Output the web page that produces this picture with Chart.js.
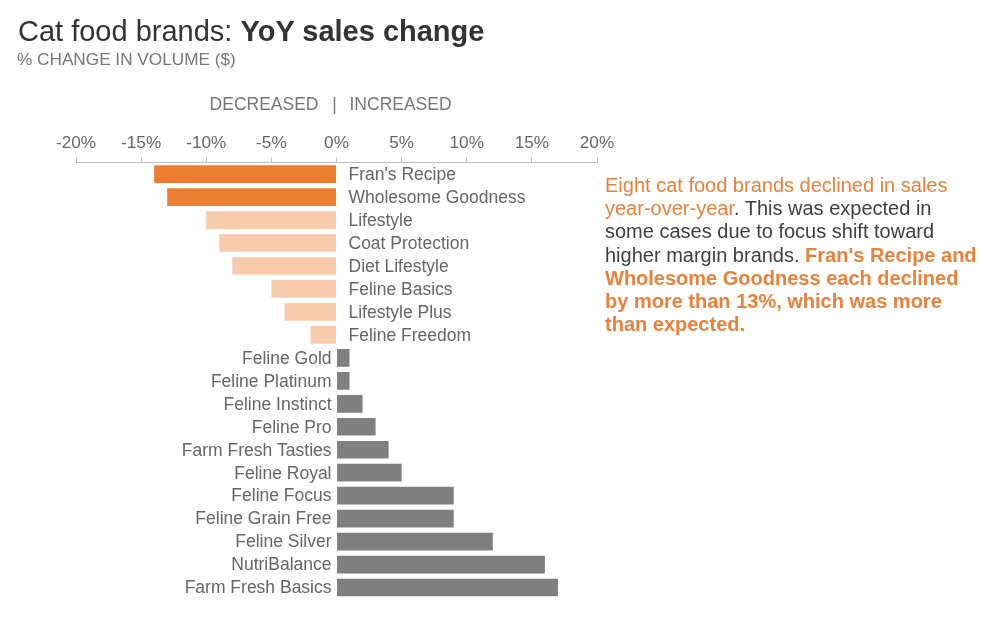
<!DOCTYPE html>
<html>
<head>
<meta charset="utf-8">
<script src="https://cdn.jsdelivr.net/npm/chart.js@4/dist/chart.umd.min.js"></script>
<style>
  body { margin: 0; background: #fff; font-family: "Liberation Sans", Arial, sans-serif; }
  #wrap { position: relative; width: 1000px; height: 621px; overflow: hidden; }
  #chart { position: absolute; left: 0; top: 0; }
  .title { position: absolute; left: 18px; top: 15px; font-size: 29px; color: #333; white-space: nowrap; }
  .title b { font-weight: bold; }
  .sub { position: absolute; left: 17px; top: 49px; font-size: 17.2px; color: #777; }
  .note { position: absolute; left: 605px; top: 174px; font-size: 20px; line-height: 23.2px; color: #404040; white-space: nowrap; }
  .note .o { color: #E8823A; }
  .note b { color: #E8823A; }
</style>
</head>
<body>
<div id="wrap">
  <canvas id="chart" width="1000" height="621"></canvas>
  <div class="title">Cat food brands: <b>YoY sales change</b></div>
  <div class="sub">% CHANGE IN VOLUME ($)</div>
  <div class="note">
    <span class="o">Eight cat food brands declined in sales</span><br>
    <span class="o">year-over-year</span>. This was expected in<br>
    some cases due to focus shift toward<br>
    higher margin brands. <b>Fran's Recipe and</b><br>
    <b>Wholesome Goodness each declined</b><br>
    <b>by more than 13%, which was more</b><br>
    <b>than expected.</b>
  </div>
</div>
<script>
// brands, top to bottom
const brands = ["Fran's Recipe", "Wholesome Goodness", "Lifestyle", "Coat Protection", "Diet Lifestyle",
  "Feline Basics", "Lifestyle Plus", "Feline Freedom", "Feline Gold", "Feline Platinum", "Feline Instinct",
  "Feline Pro", "Farm Fresh Tasties", "Feline Royal", "Feline Focus", "Feline Grain Free", "Feline Silver",
  "NutriBalance", "Farm Fresh Basics"];
// % change in volume
const change = [-14, -13, -10, -9, -8, -5, -4, -2, 1, 1, 2, 3, 4, 5, 9, 9, 12, 16, 17];
const xTicks = [-20, -15, -10, -5, 0, 5, 10, 15, 20];

const darkOrange = '#ED7D31';
const lightOrange = '#F8CBAD';
const grey = '#7F7F7F';

const barColors = change.map((v, i) => v >= 0 ? grey : (i < 2 ? darkOrange : lightOrange));

// brand names sit at the zero line, on the side away from the bar
const zeroLabels = {
  id: 'zeroLabels',
  afterDatasetsDraw(chart) {
    const { ctx, scales: { x, y } } = chart;
    const x0 = x.getPixelForValue(0);
    ctx.save();
    ctx.font = '17.5px "Liberation Sans", Arial, sans-serif';
    ctx.fillStyle = '#666';
    ctx.textBaseline = 'middle';
    brands.forEach((b, i) => {
      const py = y.getPixelForValue(i) + 1;
      if (change[i] < 0) {
        ctx.textAlign = 'left';
        ctx.fillText(b, x0 + 12, py);
      } else {
        ctx.textAlign = 'right';
        ctx.fillText(b, x0 - 5, py);
      }
    });
    // DECREASED | INCREASED header
    ctx.fillStyle = '#777';
    ctx.textAlign = 'right';
    ctx.fillText('DECREASED', x0 - 18, 105);
    ctx.textAlign = 'center';
    ctx.fillText('|', x0 - 2, 105);
    ctx.textAlign = 'left';
    ctx.fillText('INCREASED', x0 + 13, 105);
    ctx.restore();
  }
};

new Chart(document.getElementById('chart'), {
  type: 'bar',
  data: {
    labels: brands,
    datasets: [{
      data: change,
      backgroundColor: barColors,
      borderWidth: 0,
      categoryPercentage: 1,
      barPercentage: 0.77
    }]
  },
  options: {
    indexAxis: 'y',
    responsive: false,
    animation: false,
    layout: { padding: { left: 76, right: 403, top: 129, bottom: 22 } },
    plugins: { legend: { display: false }, tooltip: { enabled: false } },
    scales: {
      x: {
        position: 'top',
        min: -20,
        max: 20,
        afterBuildTicks(scale) { scale.ticks = xTicks.map(v => ({ value: v })); },
        ticks: {
          color: '#666',
          font: { family: '"Liberation Sans", Arial, sans-serif', size: 17.2 },
          padding: 4,
          callback: v => v + '%'
        },
        grid: { drawOnChartArea: false, drawTicks: true, tickLength: 5, color: '#BFBFBF' },
        border: { color: '#BFBFBF' }
      },
      y: {
        display: false
      }
    }
  },
  plugins: [zeroLabels]
});
</script>
</body>
</html>
